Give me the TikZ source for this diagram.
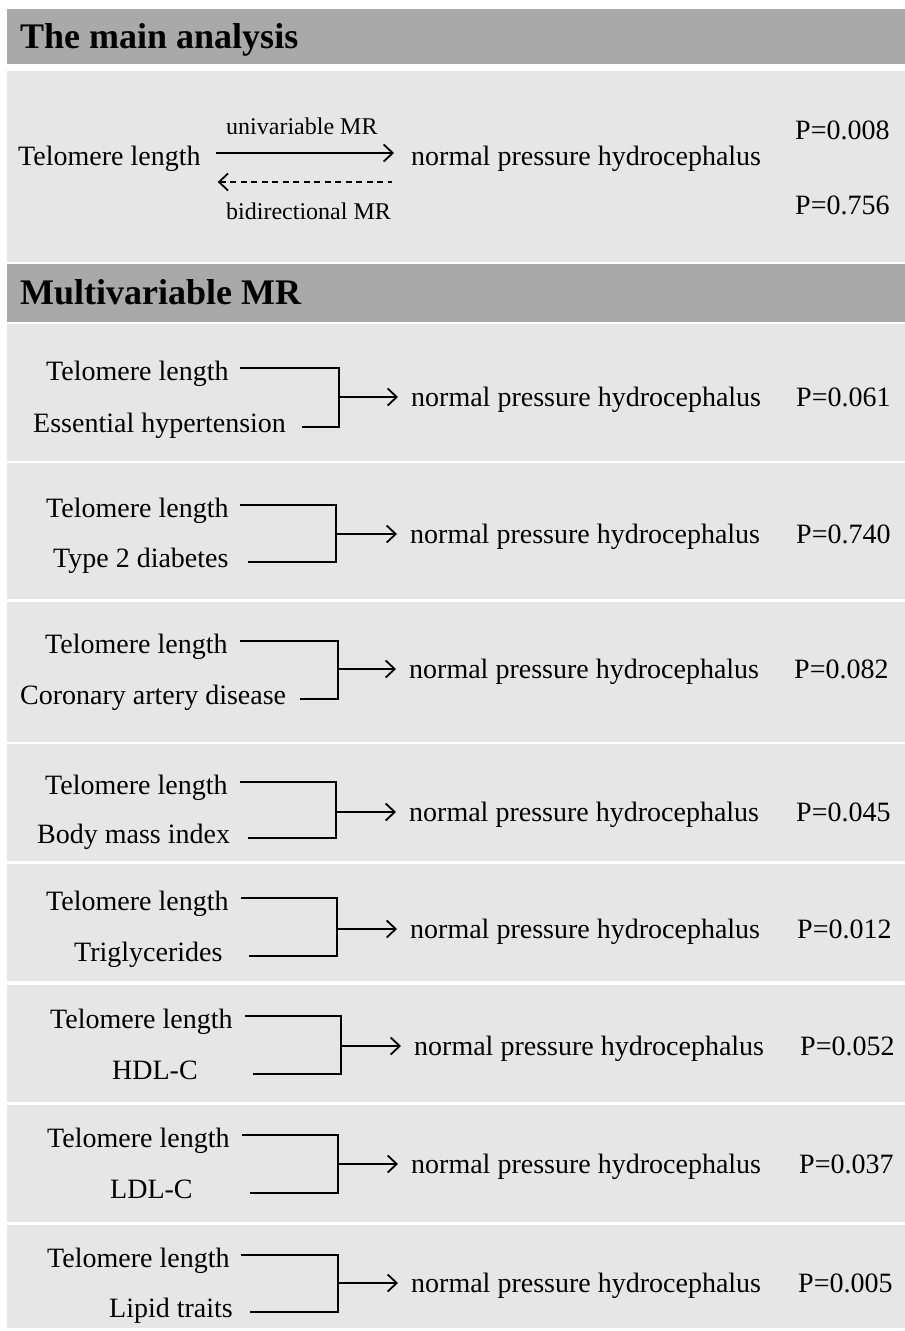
\documentclass[tikz,border=0pt]{standalone}
\usepackage{fontspec}
\setmainfont{Liberation Serif}
\usetikzlibrary{arrows.meta,calc}
\definecolor{hdr}{HTML}{A9A9A9}
\definecolor{pnl}{HTML}{E6E6E6}
\begin{document}
\begin{tikzpicture}[x=1pt,y=-1pt,
  txt/.style={inner sep=0pt, anchor=base west, font=\fontsize{28}{34}\selectfont},
  small/.style={inner sep=0pt, anchor=base west, font=\fontsize{24}{29}\selectfont},
  head/.style={inner sep=0pt, anchor=base west, font=\fontsize{36}{43}\selectfont\bfseries},
  hbar/.style={fill=hdr, draw=none},
  pbox/.style={fill=pnl, draw=none},
  ln/.style={line width=1.8pt, black},
  arr/.style={ln, -{Straight Barb[length=9pt,width=17pt]}},
  rarr/.style={ln, {Straight Barb[length=9pt,width=17pt]}-},
  ]
\useasboundingbox[fill=white] (0,0) rectangle (905,1331);
% bars and panels
\fill[hdr] (7,9) rectangle (905,64);
\fill[pnl] (7,71) rectangle (905,262);
\fill[hdr] (7,264) rectangle (905,322);
\foreach \ta/\tb in {324/461,463/599,602/742,744/861,864/981,985/1102,1105/1222,1225/1328}
  \fill[pnl] (7,\ta) rectangle (905,\tb);
% headers
\node[head] (h1) at (20,48) {The main analysis};
\node[head] (h2) at (20,304) {Multivariable MR};
% main analysis
\node[txt] (tl0) at (18,165) {Telomere length};
\node[txt] (np0) at (411,165) {normal pressure hydrocephalus};
\node[small] (uv) at (226,134) {univariable MR};
\node[small] (bd) at (226,219) {bidirectional MR};
\node[txt] (p0a) at (795,139) {P=0.008};
\node[txt] (p0b) at (795,214) {P=0.756};
\draw[arr] ($(tl0.base east)+(15,-12)$) -- ($(np0.base west)+(-17,-12)$);
\draw[rarr, dash pattern=on 6pt off 4.5pt] ($(tl0.base east)+(17,17)$) -- ($(np0.base west)+(-19,17)$);
% multivariable rows
\foreach \rid/\ryt/\ryb/\rya/\rtx/\rot/\rox/\rts/\rbs/\rvx/\rnx/\rpv/\rpx in {
  1/368/427/397/46/Essential hypertension/33/240/302/339/411/P=0.061/796,
  2/505/562/534/46/Type 2 diabetes/53/240/248/336/410/P=0.740/796,
  3/641/699/669/45/Coronary artery disease/20/240/300/338/409/P=0.082/794,
  4/782/838/812/45/Body mass index/37/240/248/336/409/P=0.045/796,
  5/898/956/929/46/Triglycerides/74/241/249/337/410/P=0.012/797,
  6/1016/1074/1046/50/HDL-C/112/245/253/341/414/P=0.052/800,
  7/1135/1193/1164/47/LDL-C/110/242/250/338/411/P=0.037/799,
  8/1255/1312/1283/47/Lipid traits/109/241/250/338/411/P=0.005/798}
{
  \node[txt] (tl\rid) at (\rtx,\ryt+12) {Telomere length};
  \node[txt] (ot\rid) at (\rox,\ryb+5) {\rot};
  \node[txt] (np\rid) at (\rnx,\rya+9) {normal pressure hydrocephalus};
  \node[txt] (pv\rid) at (\rpx,\rya+9) {\rpv};
  \coordinate (ct\rid) at (\rts,\ryt);
  \coordinate (cb\rid) at (\rbs,\ryb);
  \coordinate (cj\rid) at (\rvx,\rya);
  \draw[ln] (ct\rid) -| (cj\rid |- cb\rid) -- (cb\rid);
  \draw[arr, shorten >=13pt] (cj\rid) -- (cj\rid -| np\rid.west);
}
\end{tikzpicture}
\end{document}
